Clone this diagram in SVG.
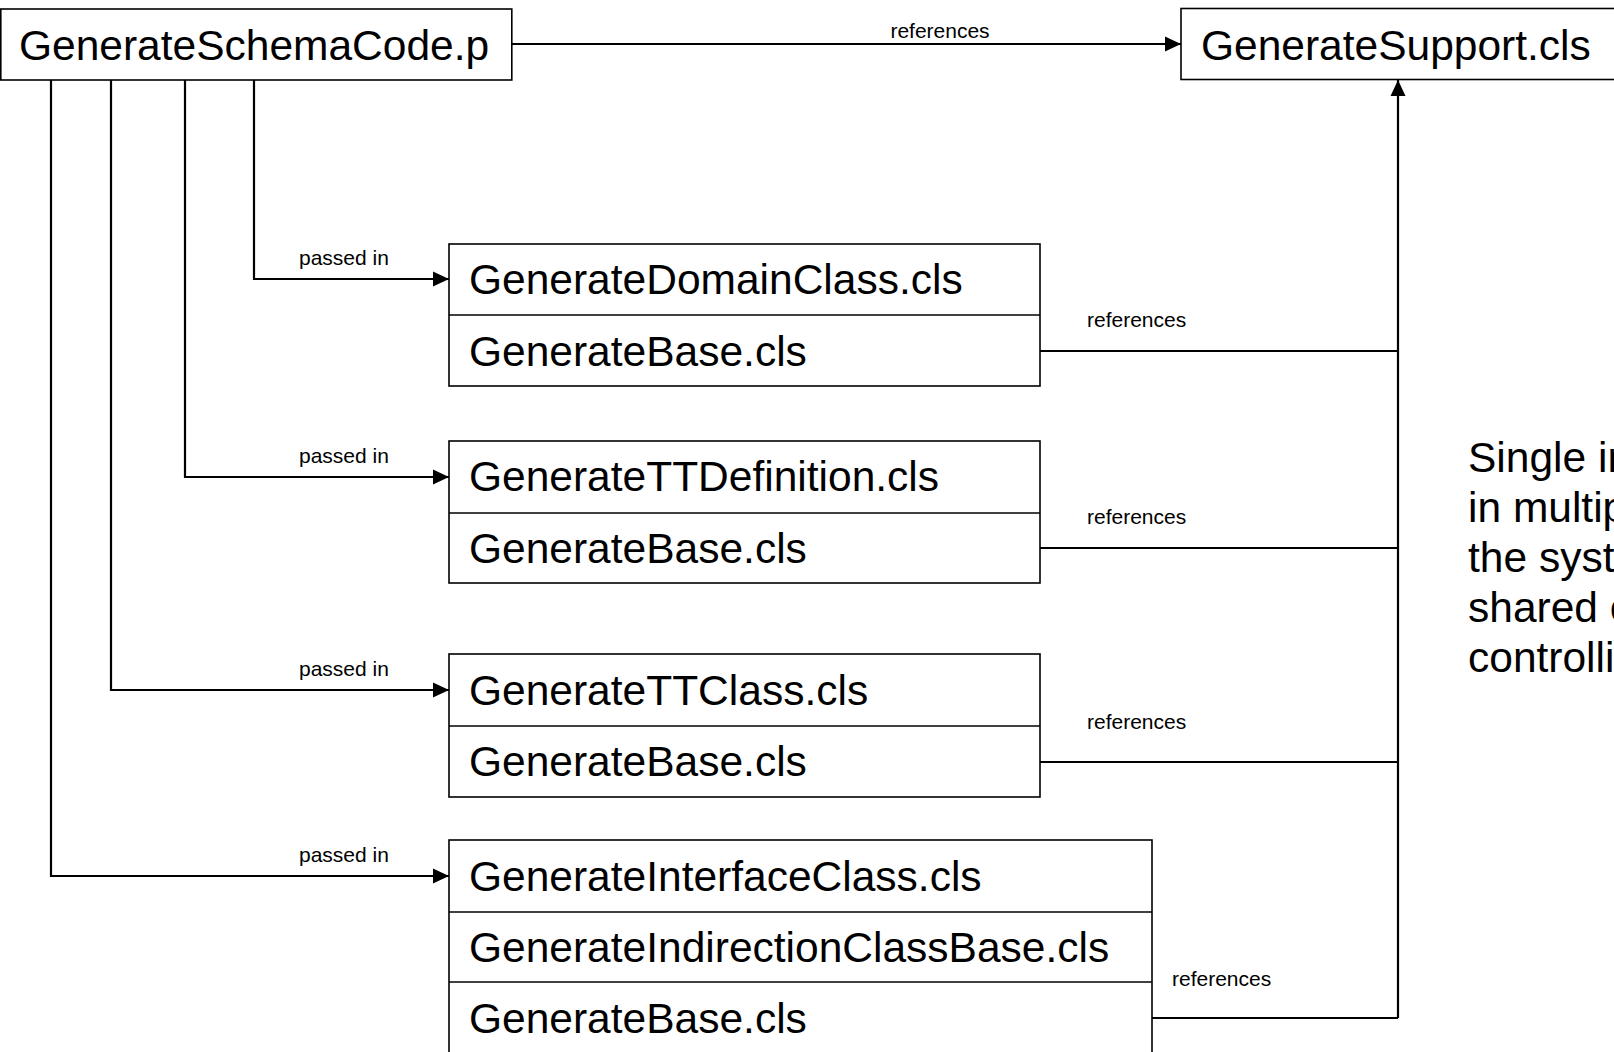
<svg xmlns="http://www.w3.org/2000/svg" width="1614" height="1052" viewBox="0 0 1614 1052">
  <style>
    .box { fill: #ffffff; stroke: #000000; stroke-width: 1.6; }
    .div { stroke: #000000; stroke-width: 1.6; fill: none; }
    .big { font-family: "Liberation Sans", Arial, sans-serif; font-size: 42.5px; fill: #000000; }
    .lbl { font-family: "Liberation Sans", Arial, sans-serif; font-size: 21px; fill: #000000; }
    .edge { stroke: #000000; stroke-width: 2.2; fill: none; }
  </style>
  <defs>
    <marker id="arrow" markerUnits="userSpaceOnUse" viewBox="0 0 16 16" refX="16" refY="8" markerWidth="16" markerHeight="16" orient="auto">
      <path d="M0,0.5 L16,8 L0,15.5 Z" fill="#000000"/>
    </marker>
  </defs>
  <rect width="1614" height="1052" fill="#ffffff"/>

  <!-- connectors -->
  <g id="connectors">
    <!-- main program references the support class -->
    <path class="edge" d="M512,44 L1181,44" marker-end="url(#arrow)"/>
    <text class="lbl" x="940" y="38" text-anchor="middle">references</text>

    <!-- objects passed in from the main program -->
    <path class="edge" d="M254,80 L254,279 L449,279" marker-end="url(#arrow)"/>
    <text class="lbl" x="299" y="265">passed in</text>
    <path class="edge" d="M185,80 L185,477 L449,477" marker-end="url(#arrow)"/>
    <text class="lbl" x="299" y="463">passed in</text>
    <path class="edge" d="M111,80 L111,690 L449,690" marker-end="url(#arrow)"/>
    <text class="lbl" x="299" y="676">passed in</text>
    <path class="edge" d="M51,80 L51,876 L449,876" marker-end="url(#arrow)"/>
    <text class="lbl" x="299" y="862">passed in</text>

    <!-- base classes reference the support class -->
    <path class="edge" d="M1040,351 L1398,351"/>
    <text class="lbl" x="1087" y="327">references</text>
    <path class="edge" d="M1040,548 L1398,548"/>
    <text class="lbl" x="1087" y="524">references</text>
    <path class="edge" d="M1040,762 L1398,762"/>
    <text class="lbl" x="1087" y="729">references</text>
    <path class="edge" d="M1152,1018 L1398,1018"/>
    <text class="lbl" x="1172" y="986">references</text>
    <path class="edge" d="M1398,1018 L1398,80" marker-end="url(#arrow)"/>
  </g>

  <g id="generate-schema-code">
    <rect class="box" x="0.8" y="9" width="511" height="71"/>
    <text class="big" x="19" y="60">GenerateSchemaCode.p</text>
  </g>

  <g id="generate-support">
    <rect class="box" x="1181" y="8.5" width="434" height="71"/>
    <text class="big" x="1201" y="60">GenerateSupport.cls</text>
  </g>

  <g id="generate-domain-class">
    <rect class="box" x="449" y="244" width="591" height="142"/>
    <line class="div" x1="449" y1="315" x2="1040" y2="315"/>
    <text class="big" x="469" y="294">GenerateDomainClass.cls</text>
    <text class="big" x="469" y="366">GenerateBase.cls</text>
  </g>

  <g id="generate-tt-definition">
    <rect class="box" x="449" y="441" width="591" height="142"/>
    <line class="div" x1="449" y1="513" x2="1040" y2="513"/>
    <text class="big" x="469" y="491">GenerateTTDefinition.cls</text>
    <text class="big" x="469" y="563">GenerateBase.cls</text>
  </g>

  <g id="generate-tt-class">
    <rect class="box" x="449" y="654" width="591" height="143"/>
    <line class="div" x1="449" y1="726" x2="1040" y2="726"/>
    <text class="big" x="469" y="705">GenerateTTClass.cls</text>
    <text class="big" x="469" y="776">GenerateBase.cls</text>
  </g>

  <g id="generate-interface-class">
    <rect class="box" x="449" y="840" width="703" height="230"/>
    <line class="div" x1="449" y1="912" x2="1152" y2="912"/>
    <line class="div" x1="449" y1="982" x2="1152" y2="982"/>
    <text class="big" x="469" y="891">GenerateInterfaceClass.cls</text>
    <text class="big" x="469" y="962">GenerateIndirectionClassBase.cls</text>
    <text class="big" x="469" y="1033">GenerateBase.cls</text>
  </g>

  <g id="note">
    <text class="big" x="1468" y="472">Single in</text>
    <text class="big" x="1468" y="522">in multip</text>
    <text class="big" x="1468" y="572">the syst</text>
    <text class="big" x="1468" y="622">shared c</text>
    <text class="big" x="1468" y="672">controlli</text>
  </g>
</svg>
